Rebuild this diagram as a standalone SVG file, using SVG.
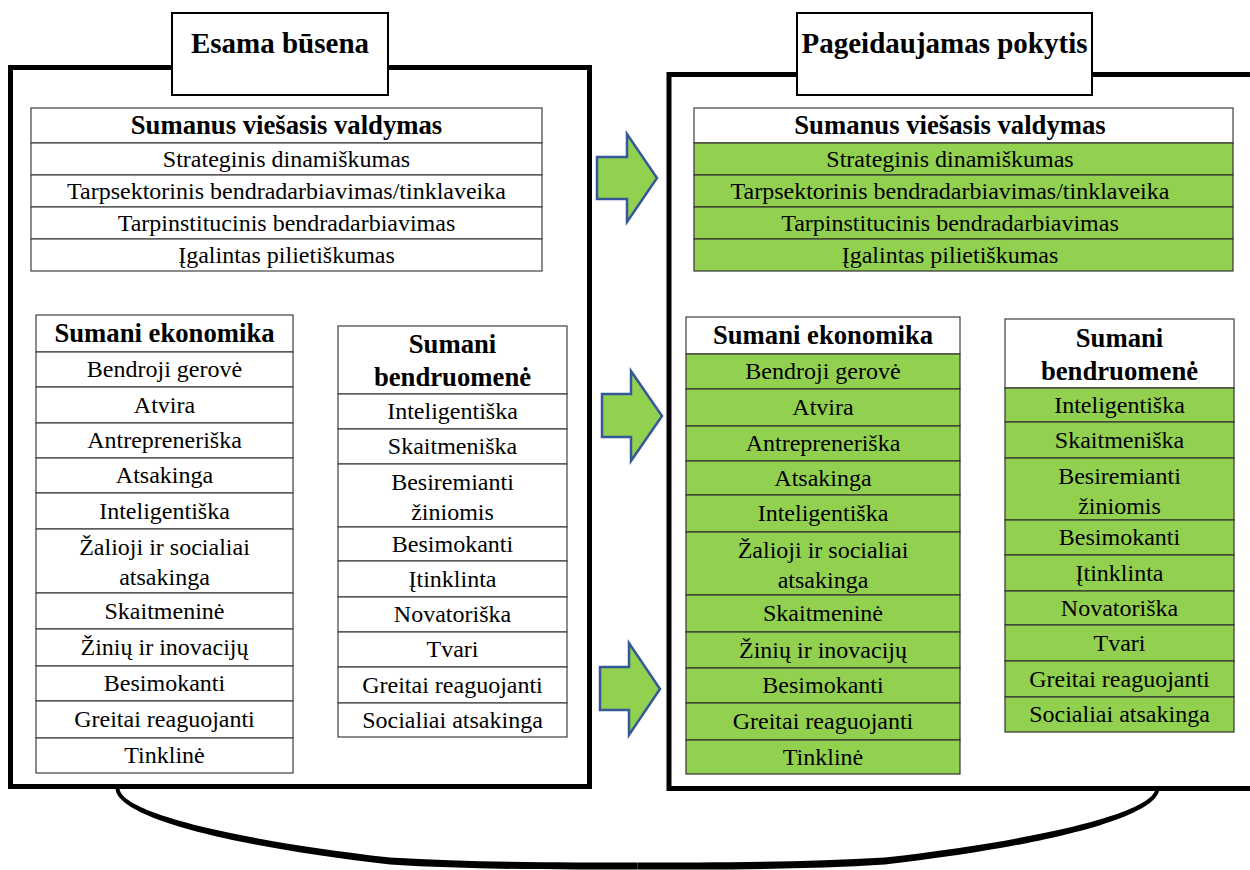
<svg xmlns="http://www.w3.org/2000/svg" width="1250" height="870" viewBox="0 0 1250 870">
  <style>
    .frame { fill: none; stroke: #000; stroke-width: 5; }
    .title { fill: #fff; stroke: #000; stroke-width: 2; }
    .cell { fill: #fff; stroke: #404040; stroke-width: 1.2; }
    .g { fill: #92D050; stroke: #333; }
    .t { font-family: "Liberation Serif", "Times New Roman", serif; font-size: 24px; text-anchor: middle; fill: #000; }
    .h { font-weight: bold; font-size: 26.7px; }
    .tt { font-weight: bold; font-size: 29px; }
    .arrow { fill: #92D050; stroke: #35589A; stroke-width: 2.5; stroke-linejoin: miter; }
    .brace { fill: #000; stroke: none; }
  </style>

  <!-- outer frames -->
  <rect id="frame-current" class="frame" x="10.5" y="67.5" width="579" height="719"/>
  <rect id="frame-desired" class="frame" x="669" y="74.5" width="600" height="714"/>

  <!-- frame titles -->
  <g id="title-current">
    <rect class="title" x="172" y="13" width="216" height="82"/>
    <text class="t tt" x="280" y="53">Esama būsena</text>
  </g>
  <g id="title-desired">
    <rect class="title" x="797" y="13" width="295" height="82"/>
    <text class="t tt" x="944.5" y="53">Pageidaujamas pokytis</text>
  </g>

  <!-- current state: smart public governance -->
  <g id="svv-current">
    <rect class="cell" x="31" y="108" width="511" height="35"/>
    <rect class="cell" x="31" y="143" width="511" height="32"/>
    <rect class="cell" x="31" y="175" width="511" height="32"/>
    <rect class="cell" x="31" y="207" width="511" height="32"/>
    <rect class="cell" x="31" y="239" width="511" height="32"/>
    <text class="t h" x="286.5" y="134">Sumanus viešasis valdymas</text>
    <text class="t" x="286.5" y="167">Strateginis dinamiškumas</text>
    <text class="t" x="286.5" y="199">Tarpsektorinis bendradarbiavimas/tinklaveika</text>
    <text class="t" x="286.5" y="231">Tarpinstitucinis bendradarbiavimas</text>
    <text class="t" x="286.5" y="263">Įgalintas pilietiškumas</text>
  </g>

  <!-- desired change: smart public governance -->
  <g id="svv-desired">
    <rect class="cell" x="694" y="108" width="539" height="35"/>
    <rect class="cell g" x="694" y="143" width="539" height="32"/>
    <rect class="cell g" x="694" y="175" width="539" height="32"/>
    <rect class="cell g" x="694" y="207" width="539" height="32"/>
    <rect class="cell g" x="694" y="239" width="539" height="32"/>
    <text class="t h" x="950" y="134">Sumanus viešasis valdymas</text>
    <text class="t" x="950" y="167">Strateginis dinamiškumas</text>
    <text class="t" x="950" y="199">Tarpsektorinis bendradarbiavimas/tinklaveika</text>
    <text class="t" x="950" y="231">Tarpinstitucinis bendradarbiavimas</text>
    <text class="t" x="950" y="263">Įgalintas pilietiškumas</text>
  </g>

  <!-- current state: smart economy -->
  <g id="eko-current">
    <rect class="cell" x="36" y="315" width="257" height="37"/>
    <rect class="cell" x="36" y="352" width="257" height="35"/>
    <rect class="cell" x="36" y="387" width="257" height="36"/>
    <rect class="cell" x="36" y="423" width="257" height="35"/>
    <rect class="cell" x="36" y="458" width="257" height="35"/>
    <rect class="cell" x="36" y="493" width="257" height="36"/>
    <rect class="cell" x="36" y="529" width="257" height="64"/>
    <rect class="cell" x="36" y="593" width="257" height="36"/>
    <rect class="cell" x="36" y="629" width="257" height="37"/>
    <rect class="cell" x="36" y="666" width="257" height="35"/>
    <rect class="cell" x="36" y="701" width="257" height="37"/>
    <rect class="cell" x="36" y="738" width="257" height="35"/>
    <text class="t h" x="164.5" y="342">Sumani ekonomika</text>
    <text class="t" x="164.5" y="377">Bendroji gerovė</text>
    <text class="t" x="164.5" y="413">Atvira</text>
    <text class="t" x="164.5" y="448">Antrepreneriška</text>
    <text class="t" x="164.5" y="483">Atsakinga</text>
    <text class="t" x="164.5" y="519">Inteligentiška</text>
    <text class="t" x="164.5" y="555">Žalioji ir socialiai</text>
    <text class="t" x="164.5" y="585">atsakinga</text>
    <text class="t" x="164.5" y="619">Skaitmeninė</text>
    <text class="t" x="164.5" y="655">Žinių ir inovacijų</text>
    <text class="t" x="164.5" y="691">Besimokanti</text>
    <text class="t" x="164.5" y="727">Greitai reaguojanti</text>
    <text class="t" x="164.5" y="763">Tinklinė</text>
  </g>

  <!-- current state: smart community -->
  <g id="ben-current">
    <rect class="cell" x="338" y="326" width="229" height="68"/>
    <rect class="cell" x="338" y="394" width="229" height="35"/>
    <rect class="cell" x="338" y="429" width="229" height="35"/>
    <rect class="cell" x="338" y="464" width="229" height="63"/>
    <rect class="cell" x="338" y="527" width="229" height="34"/>
    <rect class="cell" x="338" y="561" width="229" height="36"/>
    <rect class="cell" x="338" y="597" width="229" height="35"/>
    <rect class="cell" x="338" y="632" width="229" height="35"/>
    <rect class="cell" x="338" y="667" width="229" height="36"/>
    <rect class="cell" x="338" y="703" width="229" height="34"/>
    <text class="t h" x="452.5" y="353">Sumani</text>
    <text class="t h" x="452.5" y="386">bendruomenė</text>
    <text class="t" x="452.5" y="419">Inteligentiška</text>
    <text class="t" x="452.5" y="454">Skaitmeniška</text>
    <text class="t" x="452.5" y="490">Besiremianti</text>
    <text class="t" x="452.5" y="520">žiniomis</text>
    <text class="t" x="452.5" y="552">Besimokanti</text>
    <text class="t" x="452.5" y="587">Įtinklinta</text>
    <text class="t" x="452.5" y="622">Novatoriška</text>
    <text class="t" x="452.5" y="657">Tvari</text>
    <text class="t" x="452.5" y="693">Greitai reaguojanti</text>
    <text class="t" x="452.5" y="728">Socialiai atsakinga</text>
  </g>

  <!-- desired change: smart economy -->
  <g id="eko-desired">
    <rect class="cell" x="686" y="317" width="274" height="37"/>
    <rect class="cell g" x="686" y="354" width="274" height="35"/>
    <rect class="cell g" x="686" y="389" width="274" height="37"/>
    <rect class="cell g" x="686" y="426" width="274" height="35"/>
    <rect class="cell g" x="686" y="461" width="274" height="34"/>
    <rect class="cell g" x="686" y="495" width="274" height="37"/>
    <rect class="cell g" x="686" y="532" width="274" height="63"/>
    <rect class="cell g" x="686" y="595" width="274" height="37"/>
    <rect class="cell g" x="686" y="632" width="274" height="36"/>
    <rect class="cell g" x="686" y="668" width="274" height="35"/>
    <rect class="cell g" x="686" y="703" width="274" height="37"/>
    <rect class="cell g" x="686" y="740" width="274" height="34"/>
    <text class="t h" x="823" y="344">Sumani ekonomika</text>
    <text class="t" x="823" y="379">Bendroji gerovė</text>
    <text class="t" x="823" y="415">Atvira</text>
    <text class="t" x="823" y="451">Antrepreneriška</text>
    <text class="t" x="823" y="486">Atsakinga</text>
    <text class="t" x="823" y="521">Inteligentiška</text>
    <text class="t" x="823" y="558">Žalioji ir socialiai</text>
    <text class="t" x="823" y="588">atsakinga</text>
    <text class="t" x="823" y="621">Skaitmeninė</text>
    <text class="t" x="823" y="658">Žinių ir inovacijų</text>
    <text class="t" x="823" y="693">Besimokanti</text>
    <text class="t" x="823" y="729">Greitai reaguojanti</text>
    <text class="t" x="823" y="765">Tinklinė</text>
  </g>

  <!-- desired change: smart community -->
  <g id="ben-desired">
    <rect class="cell" x="1005" y="319" width="229" height="69"/>
    <rect class="cell g" x="1005" y="388" width="229" height="34"/>
    <rect class="cell g" x="1005" y="422" width="229" height="36"/>
    <rect class="cell g" x="1005" y="458" width="229" height="62"/>
    <rect class="cell g" x="1005" y="520" width="229" height="35"/>
    <rect class="cell g" x="1005" y="555" width="229" height="36"/>
    <rect class="cell g" x="1005" y="591" width="229" height="34"/>
    <rect class="cell g" x="1005" y="625" width="229" height="36"/>
    <rect class="cell g" x="1005" y="661" width="229" height="36"/>
    <rect class="cell g" x="1005" y="697" width="229" height="35"/>
    <text class="t h" x="1119.5" y="347">Sumani</text>
    <text class="t h" x="1119.5" y="380">bendruomenė</text>
    <text class="t" x="1119.5" y="413">Inteligentiška</text>
    <text class="t" x="1119.5" y="448">Skaitmeniška</text>
    <text class="t" x="1119.5" y="484">Besiremianti</text>
    <text class="t" x="1119.5" y="514">žiniomis</text>
    <text class="t" x="1119.5" y="545">Besimokanti</text>
    <text class="t" x="1119.5" y="581">Įtinklinta</text>
    <text class="t" x="1119.5" y="616">Novatoriška</text>
    <text class="t" x="1119.5" y="651">Tvari</text>
    <text class="t" x="1119.5" y="687">Greitai reaguojanti</text>
    <text class="t" x="1119.5" y="722">Socialiai atsakinga</text>
  </g>

  <!-- connectors: block arrows and the linking brace underneath -->
  <defs>
    <!-- one half of the brace; the other half is its mirror image -->
    <path id="brace-half" class="brace" d="M 115.5 788 C 115.5 817, 228 846, 390 864.5 C 470 869.6, 560 869.6, 637.5 869.6 L 637.5 862.6 C 560 862.6, 470 862.4, 390 857.5 C 232 839.5, 119.5 812, 119.5 788 Z"/>
  </defs>
  <g id="connectors">
    <polygon class="arrow" points="597,157 627,157 627,134 657,178 627,222 627,199 597,199"/>
    <polygon class="arrow" points="602,394 631,394 631,371 662,416 631,461 631,437 602,437"/>
    <polygon class="arrow" points="600,667 629,667 629,643 660,689 629,735 629,710 600,710"/>
    <g id="brace">
      <use href="#brace-half"/>
      <use href="#brace-half" transform="translate(1275,0) scale(-1,1)"/>
    </g>
  </g>
</svg>
